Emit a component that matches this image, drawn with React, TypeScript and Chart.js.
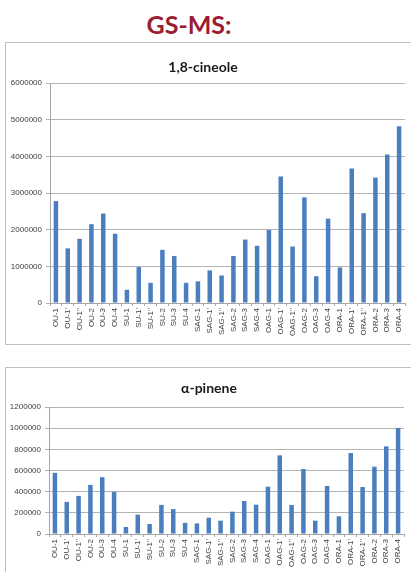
import React, { useEffect, useRef } from "react";
import { Chart, registerables } from "chart.js";

Chart.register(...registerables);

const categories = [
  "OU-1", "OU-1'", "OU-1''", "OU-2", "OU-3", "OU-4",
  "SU-1", "SU-1'", "SU-1''", "SU-2", "SU-3", "SU-4",
  "SAG-1", "SAG-1'", "SAG-1''", "SAG-2", "SAG-3", "SAG-4",
  "OAG-1", "OAG-1'", "OAG-1''", "OAG-2", "OAG-3", "OAG-4",
  "ORA-1", "ORA-1'", "ORA-1''", "ORA-2", "ORA-3", "ORA-4",
];

const cineoleValues = [
  2780000, 1490000, 1750000, 2150000, 2440000, 1890000,
  360000, 980000, 550000, 1450000, 1280000, 550000,
  590000, 890000, 750000, 1280000, 1730000, 1560000,
  1990000, 3450000, 1540000, 2880000, 730000, 2300000,
  970000, 3670000, 2450000, 3420000, 4050000, 4820000,
];

const pineneValues = [
  578000, 303000, 360000, 464000, 537000, 398000,
  66000, 183000, 95000, 275000, 235000, 105000,
  100000, 154000, 126000, 211000, 312000, 277000,
  447000, 743000, 274000, 614000, 126000, 454000,
  167000, 765000, 444000, 636000, 828000, 1002000,
];

const cineoleTitle = "1,8-cineole";
const pineneTitle = "\u03b1-pinene";
const heading = "GS-MS:";

const cineoleMax = 6000000;
const cineoleStep = 1000000;
const pineneMax = 1200000;
const pineneStep = 200000;

const titlePlugin = {
  id: "boxTitle",
  afterDraw(chart: any, _args: any, opts: any) {
    if (!opts || !opts.text) return;
    const ctx = chart.ctx;
    ctx.save();
    ctx.font = "bold 14px Lato";
    ctx.fillStyle = "#1a1a1a";
    ctx.textAlign = "center";
    ctx.textBaseline = "middle";
    ctx.fillText(opts.text, opts.x, opts.y);
    ctx.restore();
  },
};

type BarProps = {
  title: string;
  values: number[];
  max: number;
  step: number;
  width: number;
  height: number;
  plotTop: number;
  plotLeft: number;
  plotRight: number;
  xAxisHeight: number;
  titleX: number;
  titleY: number;
};

function BarChart(p: BarProps) {
  const ref = useRef<HTMLCanvasElement | null>(null);
  useEffect(() => {
    if (!ref.current) return;
    const chart = new Chart(ref.current, {
      type: "bar",
      data: {
        labels: categories,
        datasets: [
          {
            data: p.values,
            backgroundColor: "#4a7ebf",
            borderWidth: 0,
            barPercentage: 0.38,
            categoryPercentage: 1,
          },
        ],
      },
      options: {
        responsive: false,
        animation: false,
        devicePixelRatio: 1,
        layout: {
          padding: { top: p.plotTop, left: 0, right: p.width - p.plotRight, bottom: 0 },
        },
        plugins: {
          legend: { display: false },
          title: { display: false },
          tooltip: { enabled: false },
          boxTitle: { text: p.title, x: p.titleX, y: p.titleY },
        } as any,
        scales: {
          x: {
            afterFit: (scale: any) => {
              scale.height = p.xAxisHeight;
            },
            grid: {
              display: true,
              offset: true,
              drawOnChartArea: false,
              drawTicks: true,
              tickLength: 3,
              color: "#a6a6a6",
            },
            border: { display: true, color: "#a6a6a6" },
            ticks: {
              autoSkip: false,
              minRotation: 90,
              maxRotation: 90,
              padding: 2,
              color: "#404040",
              font: { family: "Liberation Sans", size: 8 },
            },
          },
          y: {
            min: 0,
            max: p.max,
            afterFit: (scale: any) => {
              scale.width = p.plotLeft;
            },
            grid: {
              color: "#b3b3b3",
              tickLength: 4,
              drawTicks: true,
            },
            border: { display: true, color: "#a6a6a6" },
            ticks: {
              stepSize: p.step,
              padding: 4,
              color: "#404040",
              font: { family: "Liberation Sans", size: 8 },
              callback: (v: any) => String(v),
            },
          },
        },
      },
      plugins: [titlePlugin],
    });
    return () => chart.destroy();
  }, []);
  return <canvas ref={ref} width={p.width} height={p.height} style={{ display: "block" }} />;
}

export default function App() {
  return (
    <div style={{ position: "absolute", left: 0, top: 0, width: 411, height: 572, overflow: "hidden", background: "#fff" }}>
      <div
        style={{
          position: "absolute",
          left: 0,
          width: 378,
          top: 9,
          textAlign: "center",
          fontFamily: "Lato",
          fontWeight: "bold",
          fontSize: 25,
          lineHeight: "30px",
          color: "#9b1c33",
        }}
      >
        {heading}
      </div>
      <div
        style={{
          position: "absolute",
          left: 5,
          top: 42,
          width: 410,
          height: 301,
          borderTop: "1px solid #bfbfbf",
          borderLeft: "1px solid #bfbfbf",
          borderBottom: "1px solid #bfbfbf",
          background: "#fff",
        }}
      >
        <BarChart
          title={cineoleTitle}
          values={cineoleValues}
          max={cineoleMax}
          step={cineoleStep}
          width={405}
          height={301}
          plotTop={40}
          plotLeft={44}
          plotRight={399}
          xAxisHeight={41}
          titleX={197}
          titleY={24}
        />
      </div>
      <div
        style={{
          position: "absolute",
          left: 5,
          top: 367,
          width: 410,
          height: 210,
          borderTop: "1px solid #bfbfbf",
          borderLeft: "1px solid #bfbfbf",
          background: "#fff",
        }}
      >
        <BarChart
          title={pineneTitle}
          values={pineneValues}
          max={pineneMax}
          step={pineneStep}
          width={405}
          height={204}
          plotTop={39}
          plotLeft={43}
          plotRight={398}
          xAxisHeight={38}
          titleX={203}
          titleY={20}
        />
      </div>
    </div>
  );
}
